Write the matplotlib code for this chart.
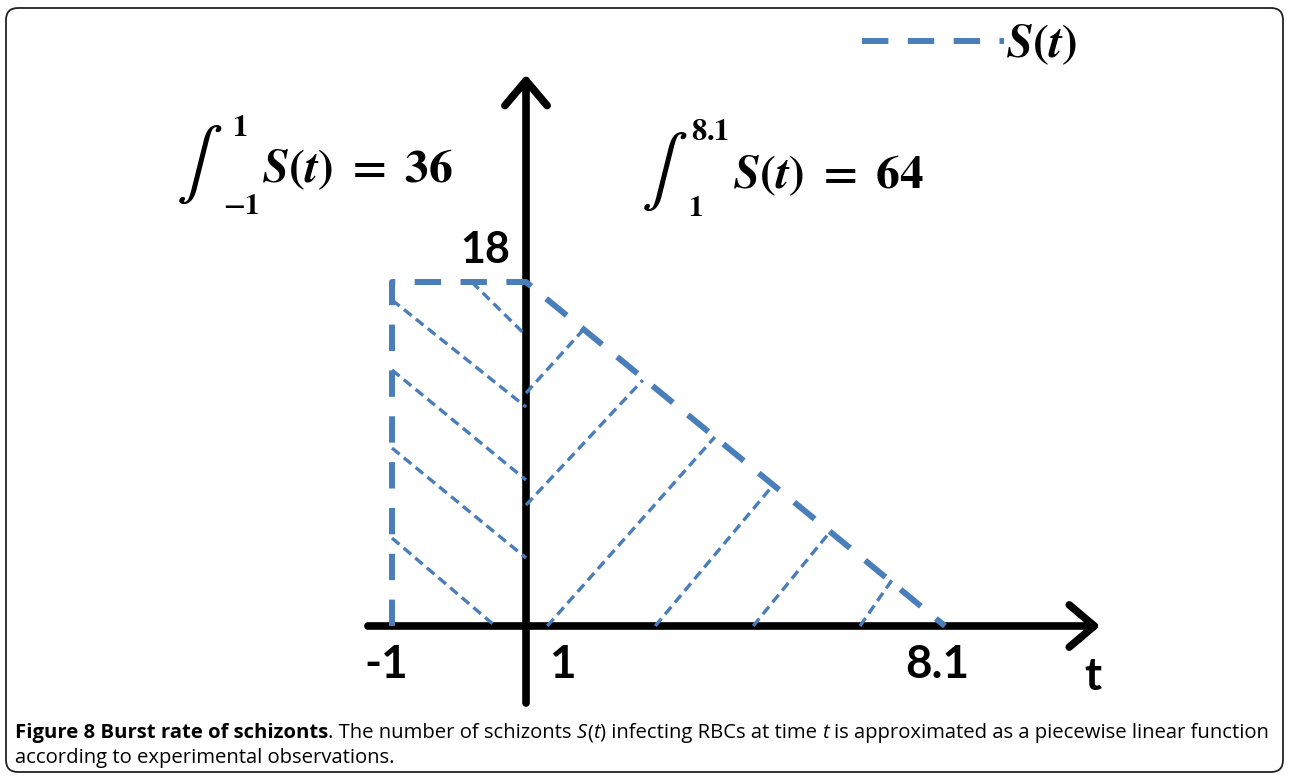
import numpy as np
import matplotlib
matplotlib.use("Agg")
import matplotlib.pyplot as plt
from matplotlib import font_manager
from matplotlib.font_manager import FontProperties
from matplotlib.patches import FancyBboxPatch
from matplotlib.transforms import IdentityTransform

plt.rcParams['lines.scale_dashes'] = False

W, H = 1289, 778
BLUE = '#4a7ebb'

# piecewise linear S(t): flat at 18 on [-1, 1], down to 0 at 8.1
t_knots = [-1.0, -1.0, 1.0, 8.1]
s_knots = [0.0, 18.0, 18.0, 0.0]

# hatch strokes inside the area (t0, S0) -> (t1, S1)
hatch_t0 = [0.19, -1.0, -1.0, -1.0, -1.0, 1.0, 1.0, 1.36, 3.19, 4.85, 6.66]
hatch_s0 = [18.0, 17.06, 13.4, 9.31, 4.6, 12.19, 6.33, 0.0, 0.0, 0.0, 0.0]
hatch_t1 = [1.0, 1.0, 1.0, 1.0, 0.54, 2.0, 2.98, 4.20, 5.19, 6.15, 7.20]
hatch_s1 = [15.2, 11.46, 7.64, 3.56, 0.0, 15.6, 12.87, 9.89, 7.38, 4.92, 2.4]

tick_values = [-1, 1, 8.1]
tick_labels = ['-1', '1', '8.1']
peak_value = 18
area_left = 36
area_right = 64

# the sketch is not to scale: the flat part is drawn wider than the slope
STRETCH = 67 / 59.01


def fwd(t):
    t = np.asarray(t, dtype=float)
    return np.where(t < 1, (t - 1) * STRETCH, t - 1)


def inv(u):
    u = np.asarray(u, dtype=float)
    return np.where(u < 0, u / STRETCH + 1, u + 1)


fig = plt.figure(figsize=(W / 100, H / 100), dpi=100)
fig.set_facecolor('white')
ax = fig.add_axes([0, 0, 1, 1])
ax.set_xscale('function', functions=(fwd, inv))
ax.set_xlim(-6.851, 13.93)
ax.set_ylim(-7.954, 32.757)
ax.axis('off')
renderer = fig.canvas.get_renderer()

# axes with arrow heads
arrow = dict(arrowstyle='->,head_length=0.45,head_width=0.38', lw=5.5,
             color='black', shrinkA=0, shrinkB=0, mutation_scale=40,
             capstyle='round', joinstyle='round')
ax.annotate('', xy=(10.73, 0), xytext=(-1.36, 0), arrowprops=arrow, zorder=1)
ax.annotate('', xy=(1, 28.85), xytext=(1, -4.03), arrowprops=arrow, zorder=1)

# hatching
for t0, s0, t1, s1 in zip(hatch_t0, hatch_s0, hatch_t1, hatch_s1):
    ax.plot([t0, t1], [s0, s1], color=BLUE, lw=2.4,
            linestyle=(0, (7, 4)), solid_capstyle='butt', zorder=2)

# S(t)
ax.plot(t_knots, s_knots, color=BLUE, lw=4.3, linestyle=(0, (19, 14)),
        dash_capstyle='butt', zorder=3,
        label=r'$\mathbfit{S}\mathbf{(}\mathbfit{t}\mathbf{)}$')

leg = ax.legend(loc='center left', bbox_to_anchor=(862 / W, 1 - 45 / H),
                bbox_transform=fig.transFigure, frameon=False,
                borderpad=0, borderaxespad=0, handlelength=3.0,
                handletextpad=0.05,
                prop=FontProperties(size=34, math_fontfamily='stix'))

# tick labels and peak label
lab = dict(family='Lato', fontweight='bold', color='black', ha='center',
           va='baseline')
label_x = [-1.09, 1.61, 7.965]
for x, txt in zip(label_x, tick_labels):
    ax.text(x, -2.72, txt, fontsize=33, **lab)
ax.text(10.61, -3.35, 't', fontsize=33, **lab)
ax.text(0.388, 18.99, str(peak_value), fontsize=31, **lab)


def px(x, y):
    return x / W, 1 - y / H


def right_edge(txt):
    return txt.get_window_extent(renderer).x1


# integrals: sign, limits beside it, then the equation
def integral(xc, yc, lo, hi, lo_x, lo_y, hi_x, hi_y, left, base, value):
    sign = fig.text(*px(xc, yc), r'$\int$', fontsize=50, math_fontfamily='stix',
                    ha='center', va='center')
    edge = right_edge(sign)
    top = fig.text(*px(max(hi_x, edge + 1), hi_y), r'$\mathbf{%s}$' % hi,
                   fontsize=22, math_fontfamily='stix', ha='left', va='center')
    bot = fig.text(*px(max(lo_x, edge + 1), lo_y), r'$\mathbf{%s}$' % lo,
                   fontsize=21, math_fontfamily='stix', ha='left', va='center')
    start = max(left, right_edge(top) + 2, right_edge(bot) + 2)
    fig.text(*px(start, base),
             r'$\mathbfit{S}\mathbf{(}\mathbfit{t}\mathbf{)\ =\ %d}$' % value,
             fontsize=34, math_fontfamily='stix', ha='left', va='baseline')


integral(199, 165, '-1', '1', 214, 206, 232, 128, 252, 182, area_left)
integral(664, 172, '1', '8.1', 677, 208, 691, 131, 733, 188, area_right)

# caption
names = {f.name for f in font_manager.fontManager.ttflist}
cap_font = 'Liberation Sans Narrow' if 'Liberation Sans Narrow' in names else 'Open Sans'

SP = None
line1 = [("Figure 8 Burst rate of schizonts", 'bold', 'normal'),
         (". The number of schizonts", 'normal', 'normal'), SP,
         ("S", 'normal', 'italic'), ("(", 'normal', 'normal'),
         ("t", 'normal', 'italic'),
         (") infecting RBCs at time", 'normal', 'normal'), SP,
         ("t", 'normal', 'italic'), SP,
         ("is approximated as a piecewise linear function", 'normal', 'normal')]
line2 = [("according to experimental observations.", 'normal', 'normal')]


def place(pieces, x0, base, size, keep=True):
    probe = fig.text(0, 0, 'a a', fontsize=size, family=cap_font)
    w1 = probe.get_window_extent(renderer).width
    probe.set_text('aa')
    space = w1 - probe.get_window_extent(renderer).width
    probe.remove()
    x = x0
    made = []
    for p in pieces:
        if p is None:
            x += space
            continue
        txt, weight, style = p
        t = fig.text(*px(x, base), txt, fontsize=size, family=cap_font,
                     fontweight=weight, fontstyle=style, ha='left',
                     va='baseline', color='black')
        x += t.get_window_extent(renderer).width
        made.append(t)
    if not keep:
        for t in made:
            t.remove()
    return x - x0


w = place(line1, 15, 738, 14, keep=False)
size = 14 * 1260 / w
place(line1, 15, 738, size)
place(line2, 15, 763, size)

# frame
frame = FancyBboxPatch((6, 6), 1277, 764, boxstyle='round,pad=0,rounding_size=12',
                       transform=IdentityTransform(), fill=False,
                       ec='#222222', lw=1.3)
fig.add_artist(frame)

fig.savefig('out.png', dpi=100)
